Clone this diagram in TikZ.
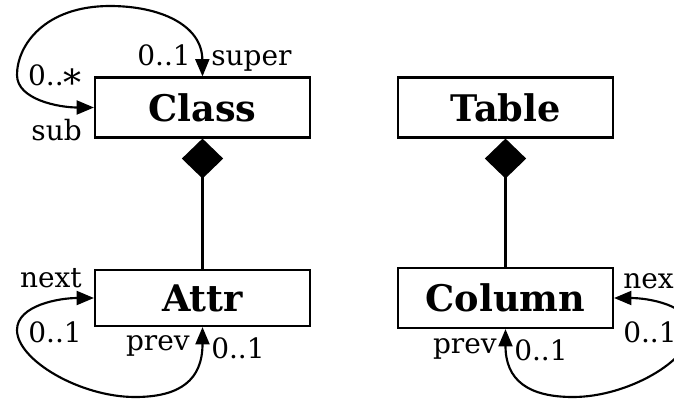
\documentclass[tikz,border=0pt]{standalone}
\usepackage{fontspec}
\setmainfont{DejaVu Serif}
\usetikzlibrary{arrows.meta}

\tikzset{
  umlclass/.style={draw, line width=1.6pt, fill=white, inner sep=0pt,
    minimum width=161.25pt, minimum height=45pt,
    font=\fontsize{27.5pt}{32pt}\selectfont\bfseries},
  rolelabel/.style={inner sep=0pt, font=\fontsize{21pt}{24pt}\selectfont},
  assoc/.style={line width=1.6pt, {Triangle[length=13pt,width=10.5pt]}-{Triangle[length=13pt,width=10.5pt]}},
  compose/.style={line width=1.6pt, {Diamond[length=30pt,width=31pt]}-}
}
% a lowered asterisk for the "many" multiplicity
\newcommand{\manystar}{\raisebox{-8pt}{\fontsize{27pt}{27pt}\selectfont *}}

\begin{document}
\begin{tikzpicture}[x=0.75pt, y=-0.75pt]
  \useasboundingbox (0,0) rectangle (674,400);
  \clip (0,0) rectangle (674,400);

  % classes
  \node[umlclass] (cls) at (202.5,107.5) {Class};
  \node[umlclass] (tbl) at (505.5,107.5) {Table};
  \node[umlclass, minimum height=42pt] (attr) at (202.5,298) {Attr};
  \node[umlclass] (col) at (505.5,298) {Column};

  % compositions
  \draw[compose] (cls.south) -- (attr.north);
  \draw[compose] (tbl.south) -- (col.north);

  % Class: super / sub
  \draw[assoc] (cls.north) .. controls (202,25) and (160,6) .. (110,6)
      .. controls (45,6) and (17,45) .. (17,75)
      .. controls (17,100) and (60,107.5) .. (cls.west);
  \node[rolelabel, anchor=base east] (clsSupMult) at (191,65) {0..1};
  \node[rolelabel, anchor=base west] (clsSupRole) at (211,65) {super};
  \node[rolelabel, anchor=base east] (clsSubMult) at (82,85) {0..\manystar};
  \node[rolelabel, anchor=base east] (clsSubRole) at (82,140) {sub};

  % Attr: next / prev
  \draw[assoc] (attr.south) .. controls (202.5,380) and (180,397) .. (135,397)
      .. controls (80,397) and (17,360) .. (17,330)
      .. controls (17,305) and (60,298) .. (attr.west);
  \node[rolelabel, anchor=base east] (attrNextRole) at (82,287) {next};
  \node[rolelabel, anchor=base east] (attrNextMult) at (82,342) {0..1};
  \node[rolelabel, anchor=base east] (attrPrevRole) at (190,350) {prev};
  \node[rolelabel, anchor=base west] (attrPrevMult) at (211,358) {0..1};

  % Column: next / prev
  \draw[assoc] (col.south) .. controls (505.5,380) and (528,397) .. (573,397)
      .. controls (628,397) and (691,360) .. (691,330)
      .. controls (691,305) and (648,298) .. (col.east);
  \node[rolelabel, anchor=base west] (colNextRole) at (623,288) {next};
  \node[rolelabel, anchor=base west] (colNextMult) at (623,342) {0..1};
  \node[rolelabel, anchor=base east] (colPrevRole) at (497,353) {prev};
  \node[rolelabel, anchor=base west] (colPrevMult) at (514,360) {0..1};
\end{tikzpicture}
\end{document}
